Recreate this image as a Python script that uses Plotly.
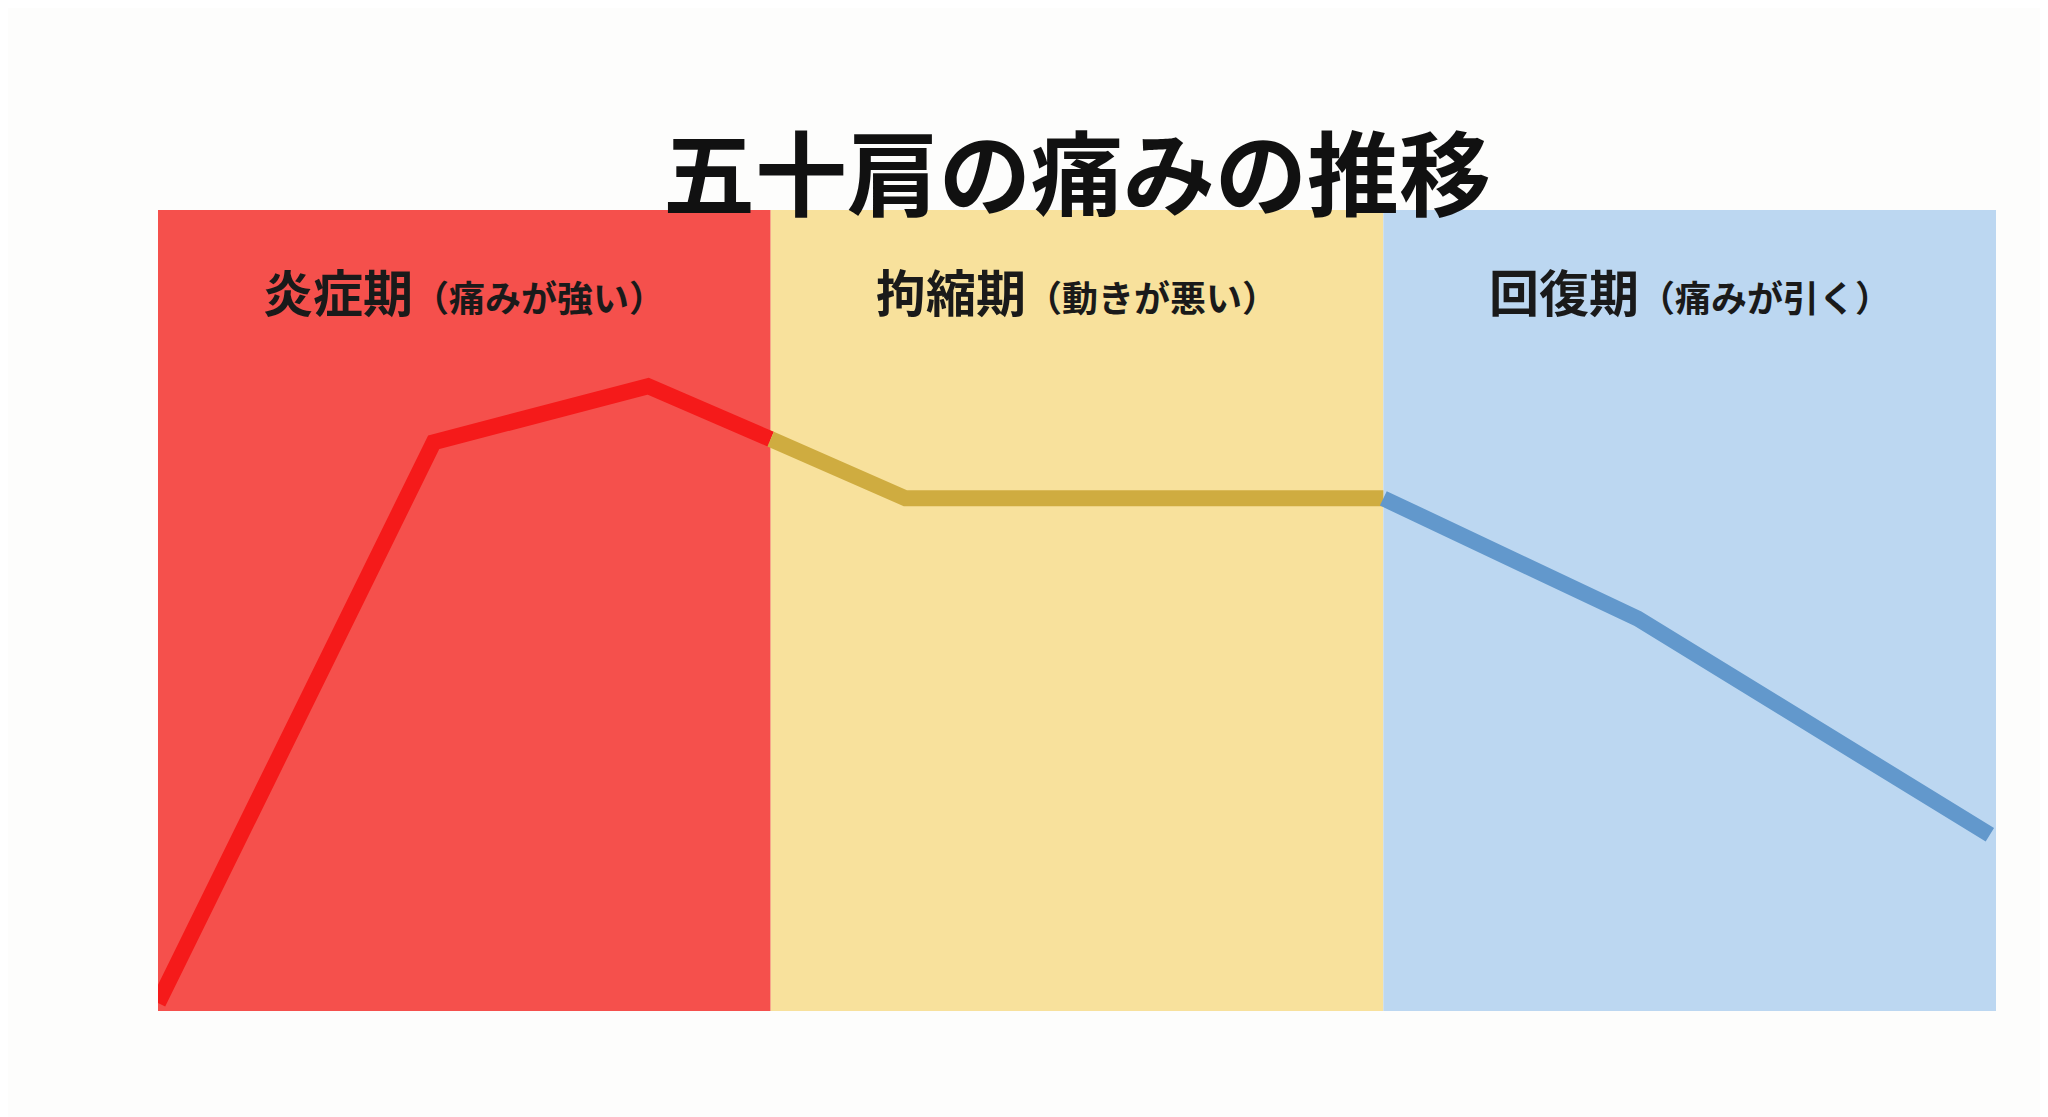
import plotly.graph_objects as go

phases = ["炎症期", "拘縮期", "回復期"]
phase_notes = ["（痛みが強い）", "（動きが悪い）", "（痛みが引く）"]
band_colors = ["#f5504c", "#f8e19c", "#bcd7f1"]
line_colors = ["#f51a1a", "#cfac40", "#6298cc"]

x_pts = [0.0, 0.45, 0.80, 1.0, 1.22, 2.0, 2.415, 2.99]
y_pts = [0.1, 7.1, 7.8, 7.14, 6.4, 6.4, 4.9, 2.2]

FONT = "Noto Sans CJK JP"
fig = go.Figure()

for i, c in enumerate(band_colors):
    fig.add_shape(type="rect", x0=i, x1=i + 1, y0=0, y1=10, fillcolor=c,
                  line_width=0, layer="below")

segs = [(0, 4), (3, 6), (5, 8)]
for (a, b), c in zip(segs, line_colors):
    fig.add_trace(go.Scatter(x=x_pts[a:b], y=y_pts[a:b], mode="lines",
                             line=dict(color=c, width=16), hoverinfo="skip",
                             showlegend=False))

for i, (p, n) in enumerate(zip(phases, phase_notes)):
    fig.add_annotation(x=i + 0.5, y=9.0, xref="x", yref="y", showarrow=False,
                       text=f"<b>{p}<span style='font-size:36px'>{n}</span></b>",
                       font=dict(family=FONT, size=50, color="#1a1a1a"))

# axes arrows
fig.add_annotation(x=0, y=10.5, ax=0, ay=-0.1, xref="x", yref="y", axref="x", ayref="y",
                   showarrow=True, arrowhead=2, arrowsize=1, arrowwidth=5, arrowcolor="#111", text="")
fig.add_annotation(x=3.06, y=0, ax=-0.01, ay=0, xref="x", yref="y", axref="x", ayref="y",
                   showarrow=True, arrowhead=2, arrowsize=1, arrowwidth=5, arrowcolor="#111", text="")

fig.add_annotation(x=-0.13, y=6.95, xref="x", yref="y", showarrow=False,
                   text="<b>痛<br>み<br>の<br>強<br>さ</b>",
                   font=dict(family=FONT, size=56, color="#111"), align="center")
fig.add_annotation(x=1.48, y=-0.7, xref="x", yref="y", showarrow=False,
                   text="<b>時間</b>", font=dict(family=FONT, size=58, color="#111"))
fig.add_annotation(x=0.5, y=1, xref="paper", yref="paper", yshift=110, showarrow=False,
                   text="<b>五十肩の痛みの推移</b>",
                   font=dict(family=FONT, size=92, color="#111"))

fig.update_layout(width=2048, height=1117, paper_bgcolor="#fdfdfc", plot_bgcolor="#fdfdfc",
                  margin=dict(l=150, r=60, t=202, b=114),
                  xaxis=dict(range=[0, 3], visible=False),
                  yaxis=dict(range=[0, 10], visible=False))
fig.write_html("out.html")
